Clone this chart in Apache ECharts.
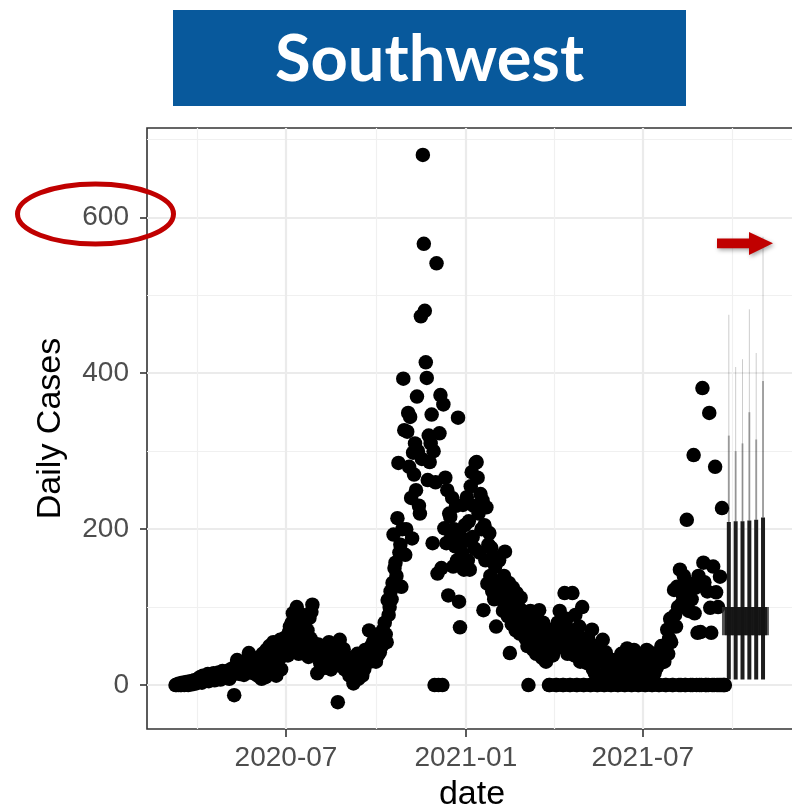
<!DOCTYPE html>
<html><head><meta charset="utf-8">
<script src="https://cdn.jsdelivr.net/npm/echarts@6/dist/echarts.min.js"></script>
<style>html,body{margin:0;padding:0;background:#fff}#chart{width:792px;height:811px}</style>
</head><body><div id="chart"></div>
<script>
// ---------------- data ----------------
const titleText = 'Southwest';
const yAxisTitle = 'Daily Cases';
const xAxisTitle = 'date';
const yTickValues = [0, 200, 400, 600];
const yMinorValues = [100, 300, 500, 700];
const xTickDates = ['2020-07-01', '2021-01-01', '2021-07-01'];
const xMinorDates = ['2020-04-01', '2020-10-01', '2021-04-01', '2021-10-01'];

// daily reported cases, one value per day from each month start
const monthStarts = ['2020-03-10','2020-04-01','2020-05-01','2020-06-01','2020-07-01','2020-08-01','2020-09-01',
  '2020-10-01','2020-11-01','2020-12-01','2021-01-01','2021-02-01','2021-03-01','2021-04-01','2021-05-01',
  '2021-06-01','2021-07-01','2021-08-01','2021-09-01'];
const cases2020Mar = [0,0,1,0,2,0,0,3,1,0,2,4,1,0,3,5,2,1,4,6,3,2];
const cases2020Apr = [5,8,4,10,7,3,12,9,6,11,8,14,5,10,13,7,9,15,6,12,10,8,16,11,7,13,18,9,12,15];
const cases2020May = [14,10,18,8,20,12,16,22,-13,15,25,32,19,28,14,21,17,30,13,24,20,26,16,41,22,18,23,29,15,34,22];
const cases2020Jun = [28,12,35,18,30,8,40,22,38,10,45,24,32,50,27,14,30,55,34,42,12,48,38,33,58,20,52,40,60,46];
const cases2020Jul = [45,60,38,68,75,52,80,92,48,72,85,100,56,40,88,66,50,90,62,42,82,58,70,36,86,60,94,103,54,38,48];
const cases2020Aug = [40,15,52,35,28,45,30,50,22,38,44,26,36,55,30,20,42,33,48,25,38,30,-22,34,58,28,40,24,46,20,32];
const cases2020Sep = [30,18,25,12,35,20,10,2,28,15,22,40,8,30,18,25,12,38,20,45,28,45,35,70,30,50,38,55,42,60];
const cases2020Oct = [30,45,38,55,42,60,50,70,58,80,65,55,109,90,100,120,110,131,193,150,157,140,214,285,170,180,126,200,393,327,167];
const cases2020Nov = [200,325,349,280,344,240,188,298,270,310,250,370,300,230,220,473,290,680,566,480,414,394,263,320,286,310,347,182,300,0];
const cases2020Dec = [260,541,143,0,323,372,150,0,360,201,266,182,250,115,220,216,190,240,152,200,178,230,160,343,107,74,190,170,231,148,205];
const cases2021Jan = [185,241,160,210,148,255,273,190,230,175,285,286,266,220,170,245,200,237,96,205,160,228,130,180,195,140,176,120,165,110,152];
const cases2021Feb = [75,130,118,160,130,110,125,95,140,171,100,120,88,131,41,115,78,125,92,108,70,118,85,100,66,112,80,95];
const cases2021Mar = [72,90,60,85,50,0,78,95,55,70,45,88,62,40,75,58,96,50,68,35,80,48,60,30,72,42,0,0,55,65,38];
const cases2021Apr = [58,45,0,0,80,62,95,50,70,0,0,118,60,85,40,72,0,0,55,118,65,38,90,0,0,48,75,30,60,100];
const cases2021May = [0,0,45,60,28,60,35,0,0,71,20,40,15,50,0,0,30,48,12,38,58,0,0,42,18,35,10,28,0,0,22];
const cases2021Jun = [15,32,8,20,0,0,25,12,40,5,18,0,0,28,47,35,15,8,0,0,22,45,12,30,6,0,0,18,38,10];
const cases2021Jul = [20,30,0,0,45,28,8,42,25,0,0,35,15,40,22,38,0,0,28,50,36,47,30,0,0,71,40,60,85,55,0];
const cases2021Aug = [0,122,90,75,126,100,0,148,0,105,115,140,0,0,212,131,95,120,0,110,0,295,92,125,0,67,140,0,68,0,381];
const cases2021Sep = [157,132,0,0,120,0,349,99,67,0,152,0,280,119,0,100,0,139,0,227,0,0,0];
const monthValues = [cases2020Mar,cases2020Apr,cases2020May,cases2020Jun,cases2020Jul,cases2020Aug,cases2020Sep,
  cases2020Oct,cases2020Nov,cases2020Dec,cases2021Jan,cases2021Feb,cases2021Mar,cases2021Apr,cases2021May,
  cases2021Jun,cases2021Jul,cases2021Aug,cases2021Sep];

// forecast intervals
const fcDates   = ['2021-09-27','2021-10-04','2021-10-11','2021-10-18','2021-10-25','2021-11-01'];
const fcLower   = [7,7,7,7,7,7];
const fcQ25     = [64,64,64,64,64,64];
const fcQ75     = [100,100,100,100,100,100];
const fcUpper80 = [209,210,210,211,212,215];
const fcUpper90 = [320,300,310,350,315,390];
const fcUpper95 = [475,408,418,482,426,575];
const fcBandDates = ['2021-09-20','2021-11-07'];
const fcBandRange = [64, 100];

// axis extents (dates / values at the panel edges)
const xMinDate = '2020-02-09T19:30';
const xMaxDate = '2021-12-05T18:00';
const yMin = -56.4, yMax = 714.6;

// ---------------- helpers ----------------
function utc(s) {
  const [d, t] = s.split('T');
  const [y, m, dd] = d.split('-').map(Number);
  let h = 0, mi = 0;
  if (t) { [h, mi] = t.split(':').map(Number); }
  return Date.UTC(y, m - 1, dd, h, mi);
}
const DAY = 86400000;
const points = [];
monthStarts.forEach((s, i) => {
  const t0 = utc(s);
  monthValues[i].forEach((v, j) => points.push([t0 + j * DAY, v]));
});
const fcData = fcDates.map((d, i) => [utc(d), fcLower[i], fcQ25[i], fcQ75[i], fcUpper80[i], fcUpper90[i], fcUpper95[i]]);
const bandData = [[utc(fcBandDates[0]), utc(fcBandDates[1]), fcBandRange[0], fcBandRange[1]]];

function fmtMonth(v) {
  const d = new Date(v);
  const m = d.getUTCMonth() + 1;
  return d.getUTCFullYear() + '-' + (m < 10 ? '0' + m : m);
}

const labelFont = 'Liberation Sans';
const chart = echarts.init(document.getElementById('chart'), null, { renderer: 'canvas' });

const option = {
  animation: false,
  backgroundColor: '#ffffff',
  grid: { left: 147, top: 128, width: 650, height: 601, show: true, borderColor: '#333333', borderWidth: 1.6,
    backgroundColor: 'transparent', containLabel: false, outerBoundsMode: 'none' },
  xAxis: [
    {
      type: 'value', min: utc(xMinDate), max: utc(xMaxDate),
      name: xAxisTitle, nameLocation: 'middle', nameGap: 49,
      nameTextStyle: { fontFamily: labelFont, fontSize: 34, color: '#000' },
      axisLine: { show: false, onZero: false },
      axisTick: { show: true, length: 8, lineStyle: { color: '#333', width: 1.6 }, customValues: xTickDates.map(utc) },
      axisLabel: { show: true, margin: 15, fontFamily: labelFont, fontSize: 28, color: '#4d4d4d', formatter: fmtMonth, customValues: xTickDates.map(utc) },
      splitLine: { show: true, lineStyle: { color: '#ebebeb', width: 2.2 } }
    },
    {
      type: 'value', min: utc(xMinDate), max: utc(xMaxDate), position: 'bottom',
      axisLine: { show: false, onZero: false },
      axisTick: { show: false, customValues: xMinorDates.map(utc) },
      axisLabel: { show: false },
      splitLine: { show: true, lineStyle: { color: '#f0f0f0', width: 1.2 } }
    }
  ],
  yAxis: [
    {
      type: 'value', min: yMin, max: yMax,
      name: yAxisTitle, nameLocation: 'middle', nameGap: 79,
      nameTextStyle: { fontFamily: labelFont, fontSize: 34, color: '#000' },
      axisLine: { show: false, onZero: false },
      axisTick: { show: true, length: 7, lineStyle: { color: '#333', width: 1.6 }, customValues: yTickValues },
      axisLabel: { show: true, margin: 18, fontFamily: labelFont, fontSize: 28, color: '#4d4d4d', customValues: yTickValues },
      splitLine: { show: true, lineStyle: { color: '#ebebeb', width: 2.2 } }
    },
    {
      type: 'value', min: yMin, max: yMax, position: 'left',
      axisLine: { show: false, onZero: false },
      axisTick: { show: false, customValues: yMinorValues },
      axisLabel: { show: false },
      splitLine: { show: true, lineStyle: { color: '#f0f0f0', width: 1.2 } }
    }
  ],
  series: [
    {
      type: 'scatter', xAxisIndex: 0, yAxisIndex: 0, data: points,
      symbol: 'circle', symbolSize: 14.5, itemStyle: { color: '#000', opacity: 1 }, z: 3, clip: true
    },
    {
      type: 'custom', xAxisIndex: 0, yAxisIndex: 0, data: bandData, z: 4, clip: true,
      renderItem: function (params, api) {
        const a = api.coord([api.value(0), api.value(3)]);
        const b = api.coord([api.value(1), api.value(2)]);
        return { type: 'rect', shape: { x: a[0], y: a[1], width: b[0] - a[0], height: b[1] - a[1] },
          style: { fill: 'rgba(40,40,40,0.8)' } };
      }
    },
    {
      type: 'custom', xAxisIndex: 0, yAxisIndex: 0, data: fcData, z: 5, clip: true,
      renderItem: function (params, api) {
        const x = api.value(0);
        const pLo = api.coord([x, api.value(1)]);
        const pQ25 = api.coord([x, api.value(2)]);
        const pQ75 = api.coord([x, api.value(3)]);
        const p80 = api.coord([x, api.value(4)]);
        const p90 = api.coord([x, api.value(5)]);
        const p95 = api.coord([x, api.value(6)]);
        return { type: 'group', children: [
          { type: 'line', shape: { x1: p95[0], y1: p95[1], x2: p80[0], y2: p80[1] }, style: { stroke: 'rgba(0,0,0,0.2)', lineWidth: 1 } },
          { type: 'line', shape: { x1: p90[0], y1: p90[1], x2: p80[0], y2: p80[1] }, style: { stroke: 'rgba(0,0,0,0.3)', lineWidth: 2 } },
          { type: 'line', shape: { x1: pLo[0], y1: pLo[1], x2: p80[0], y2: p80[1] }, style: { stroke: 'rgba(10,10,10,0.92)', lineWidth: 4 } },
          { type: 'rect', shape: { x: pQ75[0] - 4, y: pQ75[1], width: 8, height: pQ25[1] - pQ75[1] }, style: { fill: 'rgba(20,20,20,0.9)' } }
        ] };
      }
    }
  ],
  graphic: [
    { type: 'rect', shape: { x: 173, y: 10, width: 513, height: 96 }, style: { fill: '#08599c' }, z: 10 },
    { type: 'text', x: 429.5, y: 60, z: 11,
      style: { text: titleText, x: 0, y: 0, textAlign: 'center', textVerticalAlign: 'middle', fill: '#ffffff',
        fontFamily: 'Lato', fontWeight: 'bold', fontSize: 65 } },
    { type: 'ellipse', shape: { cx: 95.5, cy: 214, rx: 78, ry: 30 }, style: { fill: 'none', stroke: '#c00000', lineWidth: 5 }, z: 20 },
    { type: 'polygon', z: 20,
      shape: { points: [[717, 238.5], [749, 238.5], [749, 232], [773, 243.3], [749, 255], [749, 248.3], [717, 248.3]] },
      style: { fill: '#c00000', shadowBlur: 4, shadowOffsetX: 1.5, shadowOffsetY: 2, shadowColor: 'rgba(0,0,0,0.35)' } }
  ]
};
chart.setOption(option);
</script>
</body></html>
